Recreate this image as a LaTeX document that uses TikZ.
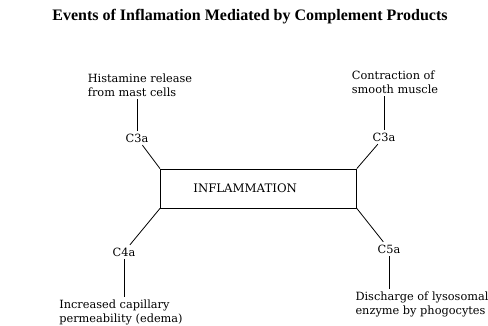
\documentclass[tikz,border=0pt]{standalone}
\usepackage{fontspec}
\setmainfont{Liberation Serif}
\newfontfamily\labelfont{DejaVu Serif}
\begin{document}
\begin{tikzpicture}[x=0.75pt,y=-0.75pt,
    every node/.style={font=\labelfont\fontsize{8.5}{10.5}\selectfont, inner sep=2pt},
    event/.style={align=left},
    frag/.style={},
    link/.style={line width=0.6pt}]
\useasboundingbox (0,0) rectangle (488,325);
% title on top
\node (title) at (250,17) {\rmfamily\fontsize{12}{12}\selectfont\bfseries Events of Inflamation Mediated by Complement Products};
% the central box
\node (infl) [draw, line width=0.6pt, anchor=west, inner xsep=0pt, minimum height=29.25pt,
    text width=147pt, align=left] at (160,188.5) {\hspace*{24.75pt}\fontsize{8.8}{10.5}\selectfont INFLAMMATION};
% fragments round the box
\node[frag] (c3l) at (137,138) {C3a};
\node[frag] (c3r) at (384,137) {C3a};
\node[frag] (c4a) at (124,252) {C4a};
\node[frag] (c5a) at (389,249) {C5a};
% events they cause
\node[event] (hist) at (140,85) {Histamine release\\from mast cells};
\node[event] (contr) at (395,82) {Contraction of\\smooth muscle};
\node[event] (perm) at (121,312) {Increased capillary\\permeability (edema)};
\node[event] (disch) at (422,304) {Discharge of lysosomal\\enzyme by phogocytes};
% connectors
\draw[link] (c3l) -- (infl.north west);
\draw[link] (c3r) -- (infl.north east);
\draw[link] (c4a) -- (infl.south west);
\draw[link] (c5a) -- (infl.south east);
\draw[link] (c3l.north) -- (c3l.north |- hist.south);
\draw[link] (c3r.north) -- (c3r.north |- contr.south);
\draw[link] (c4a.south) -- (c4a.south |- perm.north);
\draw[link] (c5a.south) -- (c5a.south |- disch.north);
\end{tikzpicture}
\end{document}
